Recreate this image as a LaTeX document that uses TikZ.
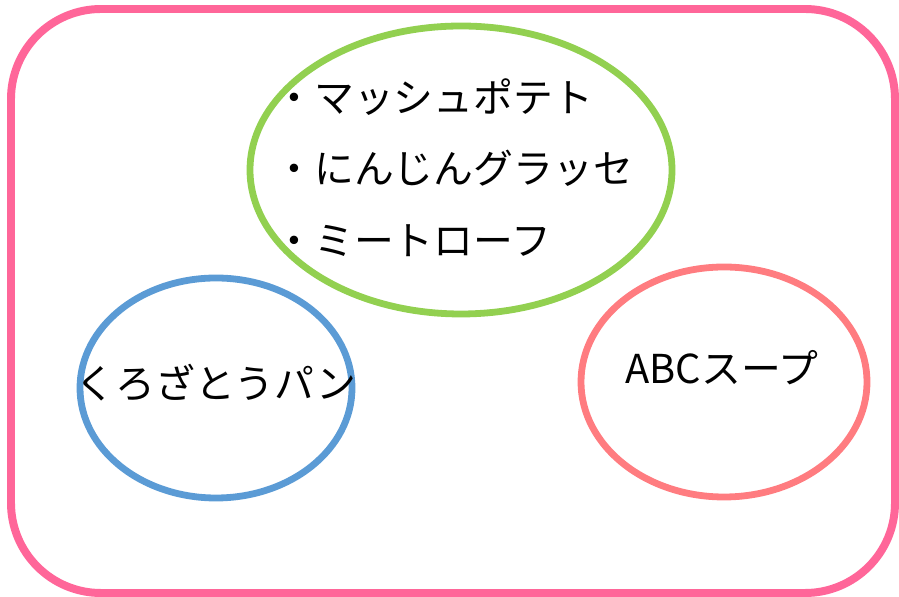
\documentclass[tikz,border=0pt]{standalone}
\usepackage{fontspec}
\newfontfamily\jpfont{Noto Sans CJK JP}
\definecolor{framepink}{RGB}{255,102,153}
\definecolor{menugreen}{RGB}{146,208,80}
\definecolor{breadblue}{RGB}{91,155,213}
\definecolor{soupred}{RGB}{255,124,128}

\begin{document}
\begin{tikzpicture}[x=0.03cm, y=0.03cm, line width=5.8pt,
  dish/.style={font=\jpfont\fontsize{34}{40}\selectfont, inner sep=0pt}]
\useasboundingbox (0,0) rectangle (899,597);
\coordinate (M) at (461,427);
\coordinate (P) at (216,209);
\coordinate (S) at (724,215);

\draw[framepink, line width=6.8pt, rounded corners=2.7cm] (11,4) rectangle (895,588);

\draw[menugreen] (M) ellipse (211 and 144);
\draw[breadblue] (P) ellipse (136 and 110);
\draw[soupred] (S) ellipse (143 and 115);

\node[dish, anchor=west] (mash) at (271,500) {・マッシュポテト};
\node[dish, anchor=west] (carrot) at (271,429) {・にんじんグラッセ};
\node[dish, anchor=west] (loaf) at (271,356) {・ミートローフ};

\node[dish] (bread) at (216,214) {くろざとうパン};
\node[dish] (soup) at (722,229) {ABCスープ};
\end{tikzpicture}
\end{document}
